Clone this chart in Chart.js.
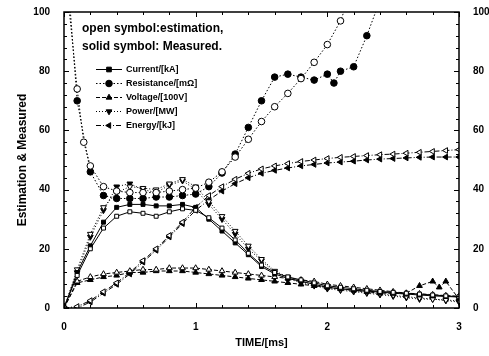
<!DOCTYPE html>
<html>
<head>
<meta charset="utf-8">
<script src="https://cdn.jsdelivr.net/npm/chart.js@4.4.1/dist/chart.umd.min.js"></script>
<style>html,body{margin:0;background:#fff}canvas{display:block}</style>
</head>
<body>
<canvas id="c" width="489" height="356"></canvas>
<script>
// time grid shared by most series (ms)
const timeMs = [0, 0.1, 0.2, 0.3, 0.4, 0.5, 0.6, 0.7, 0.8, 0.9, 1.0, 1.1, 1.2, 1.3, 1.4, 1.5,
  1.6, 1.7, 1.8, 1.9, 2.0, 2.1, 2.2, 2.3, 2.4, 2.5, 2.6, 2.7, 2.8, 2.9, 3.0];

const currentMeas = [0, 12, 21, 29, 34, 35, 35, 34.5, 34.5, 35, 34, 30, 26, 22, 18, 14,
  11.5, 10, 9, 8, 7, 6.5, 6, 5.7, 5.4, 5, 4.7, 4.4, 4.1, 3.9, 3.7];
const currentEst = [0, 11, 20, 27, 31, 32.5, 32, 31, 32.5, 33.5, 33, 30.5, 27, 23, 18.5, 14.5,
  12, 10.5, 9.5, 8.5, 7.5, 7, 6.5, 6, 5.6, 5.3, 5, 4.7, 4.4, 4.1, 3.8];

const voltageMeasTime = [0, 0.1, 0.2, 0.3, 0.4, 0.5, 0.6, 0.7, 0.8, 0.9, 1.0, 1.1, 1.2, 1.3, 1.4, 1.5,
  1.6, 1.7, 1.8, 1.9, 2.0, 2.1, 2.2, 2.3, 2.4, 2.5, 2.6, 2.7, 2.8, 2.85, 2.9, 3.0];
const voltageMeas = [0, 8.5, 9.5, 10.5, 11, 12, 12, 12.5, 12.5, 12.5, 12, 11.5, 11, 10.5, 10, 9.5,
  9, 8.5, 8, 7.5, 7, 6.5, 6, 5.5, 5, 5, 5, 7.5, 9, 7, 9, 3];
const voltageEst = [0, 9, 10.5, 11.5, 12, 12.5, 13, 13, 13.5, 13.5, 13.5, 13, 12.5, 12, 11.5, 11,
  10.5, 10, 9.5, 9, 8, 7.5, 7, 6.5, 6, 5.5, 5, 4.8, 4.5, 4.2, 4];

const powerMeas = [0, 12, 24, 33, 41, 42, 40, 39, 41.5, 43, 40, 35, 30, 25, 20, 16,
  12, 10, 8.5, 7.5, 6.5, 6, 5.5, 5, 4.5, 4, 3.5, 3, 3, 2.5, 2];
const powerEst = [0, 13, 25, 34, 39, 41, 40.5, 40, 42, 43.5, 41, 36, 31, 26, 21, 16.5,
  12.5, 10.5, 9, 8, 7, 6.3, 5.8, 5.3, 4.8, 4.3, 3.8, 3.4, 3, 2.7, 2.4];

const energyMeas = [0, 0, 2, 5, 8, 11.5, 15.5, 19.5, 24, 28.5, 33, 36.5, 39.5, 42, 44, 45.5,
  46.5, 47.3, 48, 48.5, 49, 49.3, 49.6, 50, 50.3, 50.5, 50.7, 50.9, 51, 51, 51];
const energyEst = [0, 0.5, 2.5, 5.5, 8.5, 12, 16, 20, 24.5, 29, 34, 38, 41, 43.5, 45.5, 47,
  48, 48.8, 49.5, 50, 50.5, 50.9, 51.2, 51.5, 51.8, 52, 52.3, 52.6, 52.9, 53.2, 53.5];

const resistMeasTime = [0.04, 0.1, 0.2, 0.3, 0.4, 0.5, 0.6, 0.7, 0.8, 0.9, 1.0, 1.1, 1.2, 1.3,
  1.4, 1.5, 1.6, 1.7, 1.8, 1.9, 2.0, 2.05, 2.1, 2.2, 2.3, 2.4];
const resistMeas = [105, 70, 46, 38, 37, 37, 37, 37.5, 37.5, 38, 38.5, 41, 45.6, 52,
  61, 70, 78, 79, 78, 77, 79, 76, 80, 81.5, 92, 104];
const resistEstTime = [0.03, 0.1, 0.15, 0.2, 0.3, 0.4, 0.5, 0.6, 0.7, 0.8, 0.9, 1.0, 1.1, 1.2,
  1.3, 1.4, 1.5, 1.6, 1.7, 1.8, 1.9, 2.0, 2.1, 2.15];
const resistEst = [105, 74, 56, 48, 41, 39.5, 39, 39, 39, 39.5, 40, 40.5, 42.5, 46,
  51, 57, 63, 68, 72.5, 77.5, 83, 89, 97, 103];

const legendNames = ["Current/[kA]", "Resistance/[m\u03A9]", "Voltage/[100V]", "Power/[MW]", "Energy/[kJ]"];
const noteLines = ["open symbol:estimation,", "solid symbol: Measured."];

const styles = [
  { point: "rect", rot: 0, dash: [] },
  { point: "circle", rot: 0, dash: [1.5, 2] },
  { point: "triangle", rot: 0, dash: [4, 2] },
  { point: "triangle", rot: 180, dash: [1, 2] },
  { point: "triangle", rot: 270, dash: [5, 2, 1, 2] },
];

const pts = (xs, ys) => ys.map((y, i) => ({ x: xs[i], y }));

function ds(idx, xs, ys, solid) {
  const s = styles[idx];
  return {
    label: legendNames[idx] + (solid ? "" : " est"),
    data: pts(xs, ys),
    borderColor: "#000",
    borderWidth: 1,
    borderDash: s.dash,
    pointStyle: s.point,
    rotation: s.rot,
    pointRadius: idx === 0 ? 2.8 : 3.3,
    pointBorderWidth: 1,
    pointBorderColor: "#000",
    pointBackgroundColor: solid ? "#000" : "#fff",
    tension: 0,
  };
}

const datasets = [
  ds(0, timeMs, currentEst, false),
  ds(0, timeMs, currentMeas, true),
  ds(1, resistEstTime, resistEst, false),
  ds(1, resistMeasTime, resistMeas, true),
  ds(2, timeMs, voltageEst, false),
  ds(2, voltageMeasTime, voltageMeas, true),
  ds(3, timeMs, powerEst, false),
  ds(3, timeMs, powerMeas, true),
  ds(4, timeMs, energyEst, false),
  ds(4, timeMs, energyMeas, true),
];

// frame with inward ticks on all four sides
const frameTicks = {
  id: "frameTicks",
  afterDraw(chart) {
    const { ctx, chartArea: a, scales } = chart;
    ctx.save();
    ctx.strokeStyle = "#000";
    ctx.lineWidth = 1.5;
    ctx.strokeRect(a.left, a.top, a.right - a.left, a.bottom - a.top);
    ctx.lineWidth = 1;
    ctx.beginPath();
    scales.x.ticks.forEach((t) => {
      const px = Math.round(scales.x.getPixelForValue(t.value)) + 0.5;
      const len = t.label !== "" ? 5 : 3;
      ctx.moveTo(px, a.bottom); ctx.lineTo(px, a.bottom - len);
      ctx.moveTo(px, a.top); ctx.lineTo(px, a.top + len);
    });
    scales.y.ticks.forEach((t) => {
      const py = Math.round(scales.y.getPixelForValue(t.value)) + 0.5;
      const len = t.label !== "" ? 5 : 3;
      ctx.moveTo(a.left, py); ctx.lineTo(a.left + len, py);
      ctx.moveTo(a.right, py); ctx.lineTo(a.right - len, py);
    });
    ctx.stroke();
    ctx.restore();
  },
};

// note text + legend inside the plot
const insideLegend = {
  id: "insideLegend",
  afterDraw(chart) {
    const { ctx } = chart;
    ctx.save();
    ctx.fillStyle = "#000";
    ctx.textBaseline = "middle";
    ctx.font = "bold 12px 'Liberation Sans', Arial, sans-serif";
    ctx.fillText(noteLines[0], 82, 29);
    ctx.fillText(noteLines[1], 82, 47);
    ctx.font = "bold 9px 'Liberation Sans', Arial, sans-serif";
    legendNames.forEach((name, i) => {
      const y = 69 + i * 14;
      const s = styles[i];
      ctx.strokeStyle = "#000";
      ctx.lineWidth = 1;
      ctx.setLineDash(s.dash);
      ctx.beginPath();
      ctx.moveTo(96, y + 0.5); ctx.lineTo(122, y + 0.5);
      ctx.stroke();
      ctx.setLineDash([]);
      ctx.fillStyle = "#000";
      Chart.helpers.drawPoint(ctx, { pointStyle: s.point, rotation: s.rot, radius: 3.3, borderWidth: 1 }, 109, y + 0.5);
      ctx.fillText(name, 126, y + 0.5);
    });
    ctx.restore();
  },
};

const tickFont = { family: "'Liberation Sans', Arial, sans-serif", size: 10, weight: "bold" };

new Chart(document.getElementById("c"), {
  type: "line",
  data: { datasets },
  plugins: [frameTicks, insideLegend],
  options: {
    responsive: false,
    animation: false,
    layout: { padding: { top: 12, right: 0, left: 0, bottom: 0 } },
    plugins: { legend: { display: false }, tooltip: { enabled: false } },
    scales: {
      x: {
        type: "linear", min: 0, max: 3, position: "bottom",
        grid: { display: false }, border: { display: false },
        ticks: {
          stepSize: 0.2, autoSkip: false, maxRotation: 0, padding: 5, color: "#000", font: tickFont,
          callback: (v) => (Math.abs(v - Math.round(v)) < 1e-6 ? String(Math.round(v)) : ""),
        },
        title: { display: true, text: "TIME/[ms]", color: "#000", padding: { top: 0, bottom: 6 },
          font: { family: "'Liberation Sans', Arial, sans-serif", size: 11, weight: "bold" } },
        afterFit: (s) => { s.height = 48; },
      },
      y: {
        type: "linear", min: 0, max: 100, position: "left",
        grid: { display: false }, border: { display: false },
        ticks: {
          stepSize: 4, autoSkip: false, padding: 6, color: "#000", font: tickFont,
          callback: (v) => (v % 20 === 0 ? String(v) : ""),
        },
        title: { display: true, text: "Estimation & Measured", color: "#000", padding: { top: 15, bottom: 0 },
          font: { family: "'Liberation Sans', Arial, sans-serif", size: 12, weight: "bold" } },
        afterFit: (s) => { s.width = 64; },
      },
      y2: {
        type: "linear", min: 0, max: 100, position: "right",
        grid: { display: false }, border: { display: false },
        ticks: {
          stepSize: 20, padding: 6, color: "#000", font: tickFont,
        },
        afterFit: (s) => { s.width = 30; },
      },
    },
  },
});
</script>
</body>
</html>
